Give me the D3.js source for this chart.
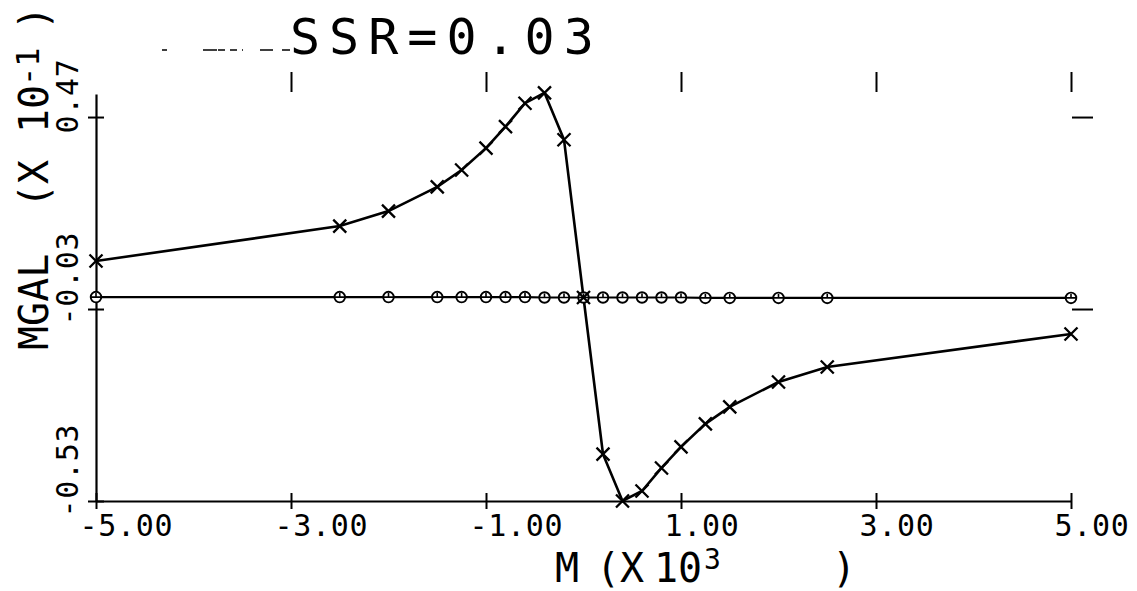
<!DOCTYPE html>
<html>
<head>
<meta charset="utf-8">
<script src="https://cdn.jsdelivr.net/npm/d3@7"></script>
<style>
  html, body { margin: 0; padding: 0; background: #fff; }
  svg { display: block; }
  text { font-family: "DejaVu Sans Mono", "Liberation Mono", monospace; fill: #000; }
</style>
</head>
<body>
<svg id="chart" width="1137" height="591"></svg>
<script>
// ---- data ----
const titleText = "SSR=0.03";
const xTickValues = [-5, -3, -1, 1, 3, 5];
const xTickLabels = ["-5.00", "-3.00", "-1.00", "1.00", "3.00", "5.00"];
const yTickValues = [0.47, -0.03, -0.53];
const yTickLabels = ["0.47", "-0.03", "-0.53"];

// series 1 (crosses)
const crossX = [-5, -2.5, -2, -1.5, -1.25, -1, -0.8, -0.6, -0.4, -0.2, 0, 0.2, 0.4, 0.6, 0.8, 1.0, 1.25, 1.5, 2.0, 2.5, 5];
const crossY = [0.095, 0.186, 0.225, 0.288, 0.332, 0.389, 0.445, 0.506, 0.533, 0.411, 0.0, -0.408, -0.53, -0.504, -0.444, -0.389, -0.329, -0.285, -0.22, -0.181, -0.095];

// series 2 (circles)
const circX = [-5, -2.5, -2, -1.5, -1.25, -1, -0.8, -0.6, -0.4, -0.2, 0, 0.2, 0.4, 0.6, 0.8, 1.0, 1.25, 1.5, 2.0, 2.5, 5];
const circY = [0.001, 0.001, 0.001, 0.001, 0.001, 0.001, 0.001, 0.001, 0.0, 0.0, 0.0, 0.0, 0.0, 0.0, 0.0, 0.0, -0.001, -0.001, -0.001, -0.001, -0.001];

// ---- layout ----
const svg = d3.select("#chart");
const x = d3.scaleLinear().domain([-5, 5]).range([96, 1071]);
const y = d3.scaleLinear().domain([-0.53, 0.53]).range([501, 94]);

// bottom axis
const gx = svg.append("g").attr("transform", `translate(0,${y(-0.53)})`)
  .call(d3.axisBottom(x).tickValues(xTickValues).tickSize(8).tickSizeOuter(0)
    .tickFormat((d, i) => xTickLabels[i]));
gx.select(".domain").attr("stroke", "#000").attr("stroke-width", 2.2);
gx.selectAll(".tick line").attr("y1", -8).attr("y2", 8).attr("stroke", "#000").attr("stroke-width", 2);
gx.selectAll(".tick text").attr("text-anchor", "start").attr("x", -17).attr("y", 35).attr("dy", null)
  .attr("font-size", 30).attr("letter-spacing", 0.7).attr("font-family", null);

// left axis
const gy = svg.append("g").attr("transform", `translate(${x(-5)},0)`)
  .call(d3.axisLeft(y).tickValues(yTickValues).tickSize(8).tickSizeOuter(0)
    .tickFormat((d, i) => yTickLabels[i]));
gy.select(".domain").attr("stroke", "#000").attr("stroke-width", 2.2);
gy.selectAll(".tick line").attr("x1", -8).attr("x2", 8).attr("stroke", "#000").attr("stroke-width", 2);
gy.selectAll(".tick text").attr("text-anchor", "start").attr("x", 0).attr("y", 0).attr("dy", null)
  .attr("transform", "translate(-18,16) rotate(-90)")
  .attr("font-size", 30).attr("letter-spacing", 0.7).attr("font-family", null);

// top ticks (no line)
const gt = svg.append("g").attr("transform", "translate(0,92)")
  .call(d3.axisTop(x).tickValues([-3, -1, 1, 3, 5]).tickSize(20).tickFormat(""));
gt.select(".domain").remove();
gt.selectAll(".tick line").attr("stroke", "#000").attr("stroke-width", 2);

// right ticks (no line)
const gr = svg.append("g").attr("transform", `translate(${x(5) + 1},0)`)
  .call(d3.axisRight(y).tickValues([0.47, -0.03]).tickSize(21).tickFormat(""));
gr.select(".domain").remove();
gr.selectAll(".tick line").attr("stroke", "#000").attr("stroke-width", 2);

// lines
const crossData = crossX.map((d, i) => [d, crossY[i]]);
const circData = circX.map((d, i) => [d, circY[i]]);
const line = d3.line().x(d => x(d[0])).y(d => y(d[1]));

svg.append("path").datum(circData).attr("d", line)
  .attr("fill", "none").attr("stroke", "#000").attr("stroke-width", 2.2);
svg.append("path").datum(crossData).attr("d", line)
  .attr("fill", "none").attr("stroke", "#000").attr("stroke-width", 2.6);

// circle markers
const cg = svg.append("g").selectAll("g").data(circData).join("g")
  .attr("transform", d => `translate(${x(d[0])},${y(d[1])})`);
cg.append("circle").attr("r", 5.3).attr("fill", "#fff").attr("stroke", "#000").attr("stroke-width", 1.9);
cg.append("path").attr("d", "M-5,0H5M0,-4V0").attr("stroke", "#000").attr("stroke-width", 1.6);

// cross markers
svg.append("g").selectAll("path").data(crossData).join("path")
  .attr("transform", d => `translate(${x(d[0])},${y(d[1])})`)
  .attr("d", "M-6.5,-6.5L6.5,6.5M-6.5,6.5L6.5,-6.5")
  .attr("stroke", "#000").attr("stroke-width", 2.3);

// title with dashed lead line
svg.append("path").attr("d", "M162,50H290")
  .attr("stroke", "#000").attr("stroke-width", 1.4)
  .attr("stroke-dasharray", "5,36,14,1,7,5,7,5,1,17,13,9,8");
svg.append("text").attr("x", 290).attr("y", 54).attr("font-size", 50)
  .attr("letter-spacing", 9).text(titleText);

// y axis title (rotated)
const yl = svg.append("g").attr("transform", "translate(48,0) rotate(-90)");
const ylt = yl.append("text").attr("font-size", 40);
ylt.append("tspan").attr("x", -350).text("MGAL");
ylt.append("tspan").attr("x", -208).text("(X");
ylt.append("tspan").attr("x", -133).text("10");
ylt.append("tspan").attr("x", -86).attr("dy", -9).attr("font-size", 32).text("-1");
ylt.append("tspan").attr("x", -30).attr("dy", 9).text(")");

// x axis title
const xlt = svg.append("text").attr("y", 582).attr("font-size", 40);
xlt.append("tspan").attr("x", 555).text("M");
xlt.append("tspan").attr("x", 596).text("(X");
xlt.append("tspan").attr("x", 654).text("10");
xlt.append("tspan").attr("x", 704).attr("dy", -13).attr("font-size", 28).text("3");
xlt.append("tspan").attr("x", 832).attr("dy", 13).text(")");
</script>
</body>
</html>
